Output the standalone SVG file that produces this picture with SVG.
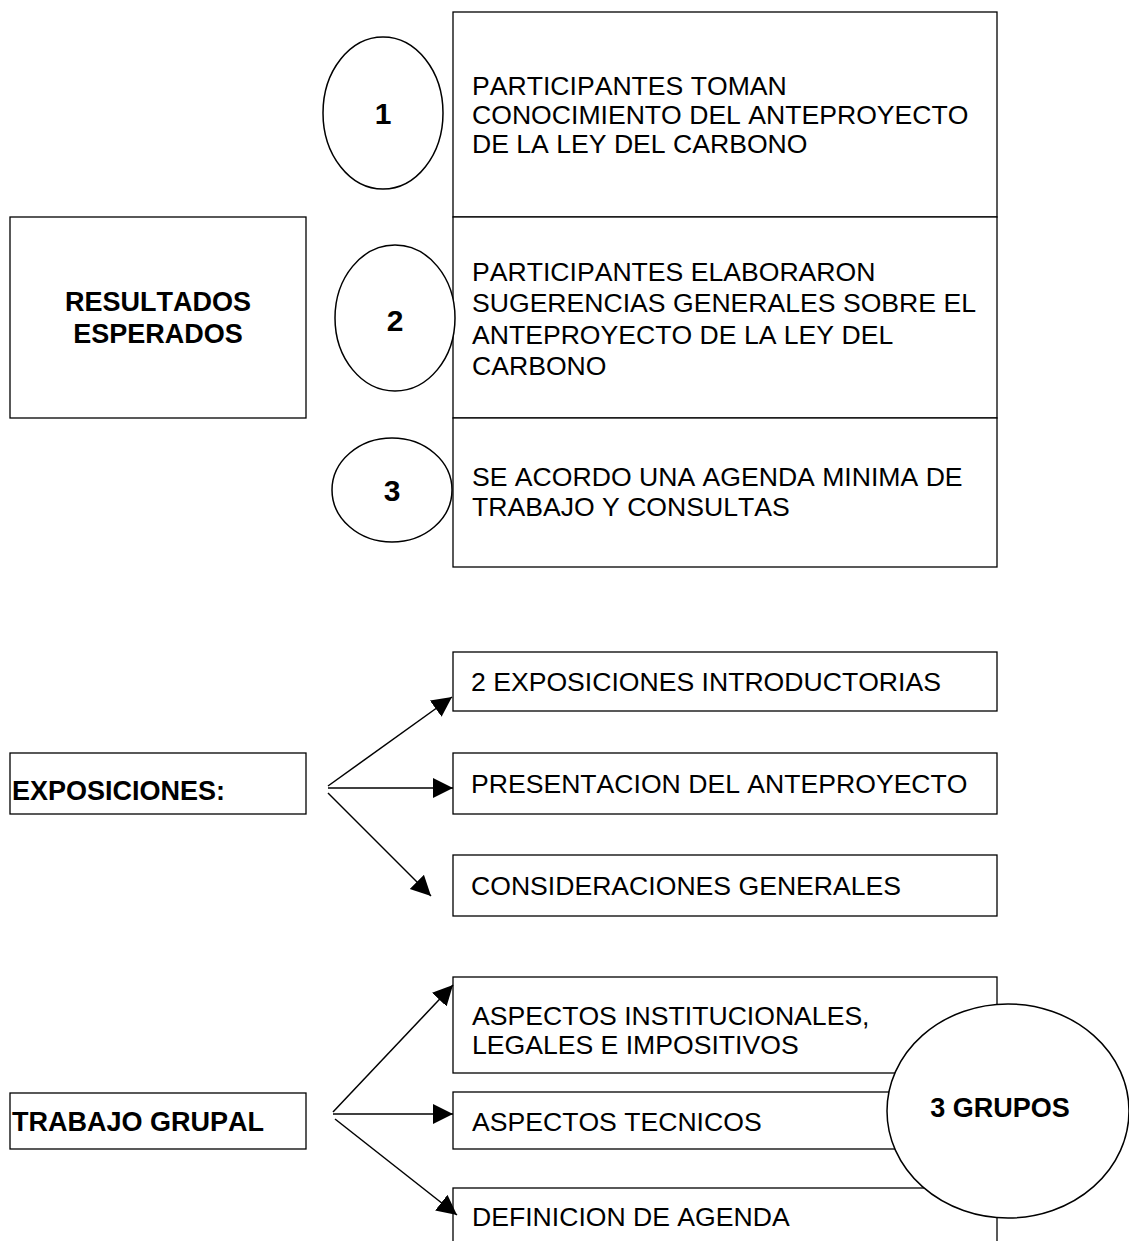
<svg xmlns="http://www.w3.org/2000/svg" width="1129" height="1241" viewBox="0 0 1129 1241">
<style>
  .box{fill:#fff;stroke:#000;stroke-width:1.3}
  .circ{fill:#fff;stroke:#000;stroke-width:1.5}
  .t{font-family:"Liberation Sans",Arial,sans-serif;font-size:26.6px;fill:#000;font-kerning:none}
  .b{font-family:"Liberation Sans",Arial,sans-serif;font-size:27px;font-weight:bold;fill:#000;font-kerning:none}
  .n{font-family:"Liberation Sans",Arial,sans-serif;font-size:30px;font-weight:bold;fill:#000;text-anchor:middle}
  .c{text-anchor:middle}
  .ln{stroke:#000;stroke-width:1.5;fill:none;marker-end:url(#ah)}
</style>
<defs>
  <marker id="ah" markerUnits="userSpaceOnUse" markerWidth="22" markerHeight="22" refX="20" refY="10" orient="auto">
    <path d="M0,0 L20,10 L0,20 Z" fill="#000"/>
  </marker>
</defs>
<rect width="1129" height="1241" fill="#fff"/>

<g id="resultados">
  <rect class="box" x="10" y="217" width="296" height="201"/>
  <text class="b c" x="158" y="311">RESULTADOS</text>
  <text class="b c" x="158" y="343">ESPERADOS</text>
</g>

<g id="resultado-1">
  <rect class="box" x="453" y="12" width="544" height="205"/>
  <text class="t" x="472" y="95">PARTICIPANTES TOMAN</text>
  <text class="t" x="472" y="124">CONOCIMIENTO DEL ANTEPROYECTO</text>
  <text class="t" x="472" y="153">DE LA LEY DEL CARBONO</text>
</g>
<g id="resultado-2">
  <rect class="box" x="453" y="217" width="544" height="201"/>
  <text class="t" x="472" y="281">PARTICIPANTES ELABORARON</text>
  <text class="t" x="472" y="312">SUGERENCIAS GENERALES SOBRE EL</text>
  <text class="t" x="472" y="344">ANTEPROYECTO DE LA LEY DEL</text>
  <text class="t" x="472" y="375">CARBONO</text>
</g>
<g id="resultado-3">
  <rect class="box" x="453" y="418" width="544" height="149"/>
  <text class="t" x="472" y="486">SE ACORDO UNA AGENDA MINIMA DE</text>
  <text class="t" x="472" y="516">TRABAJO Y CONSULTAS</text>
</g>

<g id="num-1">
  <ellipse class="circ" cx="383" cy="113" rx="60" ry="76"/>
  <text class="n" x="383" y="124">1</text>
</g>
<g id="num-2">
  <ellipse class="circ" cx="395" cy="318" rx="60" ry="73"/>
  <text class="n" x="395" y="331">2</text>
</g>
<g id="num-3">
  <ellipse class="circ" cx="392" cy="490" rx="60" ry="52"/>
  <text class="n" x="392" y="501">3</text>
</g>

<g id="exposiciones">
  <rect class="box" x="10" y="753" width="296" height="61"/>
  <text class="b" x="12" y="800">EXPOSICIONES:</text>
</g>
<g id="exp-1">
  <rect class="box" x="453" y="652" width="544" height="59"/>
  <text class="t" x="471" y="691">2 EXPOSICIONES INTRODUCTORIAS</text>
</g>
<g id="exp-2">
  <rect class="box" x="453" y="753" width="544" height="61"/>
  <text class="t" x="471" y="793">PRESENTACION DEL ANTEPROYECTO</text>
</g>
<g id="exp-3">
  <rect class="box" x="453" y="855" width="544" height="61"/>
  <text class="t" x="471" y="895">CONSIDERACIONES GENERALES</text>
</g>

<g id="trabajo">
  <rect class="box" x="10" y="1093" width="296" height="56"/>
  <text class="b" x="12" y="1131">TRABAJO GRUPAL</text>
</g>
<g id="grp-1">
  <rect class="box" x="453" y="977" width="544" height="96"/>
  <text class="t" x="472" y="1025">ASPECTOS INSTITUCIONALES,</text>
  <text class="t" x="472" y="1054">LEGALES E IMPOSITIVOS</text>
</g>
<g id="grp-2">
  <rect class="box" x="453" y="1092" width="544" height="57"/>
  <text class="t" x="472" y="1131">ASPECTOS TECNICOS</text>
</g>
<g id="grp-3">
  <rect class="box" x="453" y="1188" width="544" height="60"/>
  <text class="t" x="472" y="1226">DEFINICION DE AGENDA</text>
</g>

<g id="connectors">
  <line class="ln" x1="328" y1="786" x2="452" y2="697"/>
  <line class="ln" x1="328" y1="788" x2="453" y2="788"/>
  <line class="ln" x1="328" y1="793" x2="431" y2="896"/>
  <line class="ln" x1="333" y1="1112" x2="453" y2="985"/>
  <line class="ln" x1="333" y1="1114" x2="453" y2="1114"/>
  <line class="ln" x1="335" y1="1119" x2="457" y2="1215"/>
</g>

<g id="grupos">
  <ellipse class="circ" cx="1008" cy="1111" rx="121" ry="107"/>
  <text class="b c" x="1000" y="1117">3 GRUPOS</text>
</g>
</svg>
